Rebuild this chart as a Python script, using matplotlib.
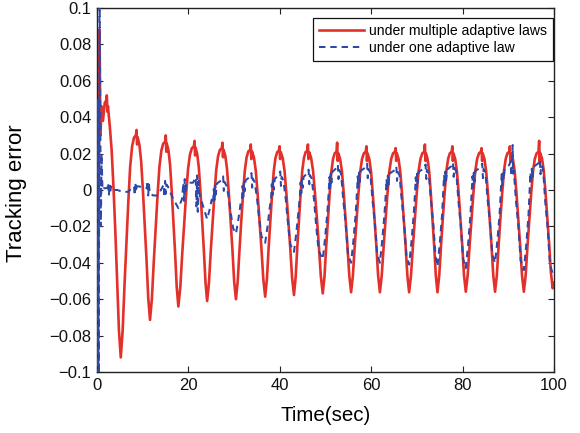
import matplotlib
matplotlib.use("Agg")
import matplotlib.pyplot as plt

plt.rcParams['font.family'] = ['Liberation Sans', 'DejaVu Sans']

# ---------------- data ----------------
# (time, error) samples of the red curve, one row per half cycle
red_points = [
    (0, 0.0), (0.2, -0.105), (0.55, 0.088), (0.75, 0.030), (1.0, 0.046), (1.3, 0.038), (1.7, 0.048), (2.0, 0.049),
    (2.15, 0.052), (2.27, 0.043), (2.4, 0.046), (2.8, 0.035), (3.2, 0.022), (3.6, 0.002), (4.0, -0.022), (4.4, -0.050), (4.8, -0.077), (5.2, -0.092),
    (5.61, -0.0774), (6.03, -0.0517), (6.44, -0.0286), (6.85, -0.0066), (7.26, 0.0129), (7.68, 0.0239), (8.09, 0.0288), (8.5, 0.030),
    (8.65, 0.033), (8.77, 0.025), (8.89, 0.029), (9.28, 0.0249), (9.66, 0.0158), (10.05, -0.0004), (10.44, -0.0187), (10.83, -0.0379), (11.21, -0.0592), (11.6, -0.0714),
    (12.01, -0.0597), (12.43, -0.0391), (12.84, -0.0205), (13.25, -0.0029), (13.66, 0.0128), (14.08, 0.0216), (14.49, 0.0255), (14.9, 0.0265),
    (15.05, 0.030), (15.17, 0.021), (15.26, 0.0256), (15.63, 0.022), (15.99, 0.0138), (16.35, -0.0006), (16.71, -0.0169), (17.08, -0.0341), (17.44, -0.0531), (17.8, -0.064),
    (18.23, -0.0534), (18.65, -0.035), (19.08, -0.0182), (19.5, -0.0024), (19.93, 0.0117), (20.35, 0.0196), (20.78, 0.0231), (21.2, 0.024),
    (21.35, 0.027), (21.47, 0.019), (21.56, 0.0232), (21.93, 0.0198), (22.29, 0.0121), (22.65, -0.0015), (23.01, -0.0168), (23.38, -0.0329), (23.74, -0.0508), (24.1, -0.061),
    (24.5, -0.0509), (24.9, -0.0333), (25.3, -0.0174), (25.7, -0.0023), (26.1, 0.0112), (26.5, 0.0187), (26.9, 0.0221), (27.3, 0.0229),
    (27.45, 0.026), (27.57, 0.018), (27.69, 0.0221), (28.08, 0.0188), (28.46, 0.0113), (28.85, -0.002), (29.24, -0.0169), (29.63, -0.0326), (30.01, -0.0501), (30.4, -0.060),
    (30.79, -0.0502), (31.18, -0.0329), (31.56, -0.0174), (31.95, -0.0026), (32.34, 0.0105), (32.73, 0.0179), (33.11, 0.0212), (33.5, 0.022),
    (33.65, 0.025), (33.77, 0.017), (33.91, 0.0212), (34.33, 0.018), (34.74, 0.0107), (35.15, -0.0022), (35.56, -0.0167), (35.98, -0.032), (36.39, -0.0489), (36.8, -0.0586),
    (37.18, -0.049), (37.55, -0.0321), (37.93, -0.0169), (38.3, -0.0025), (38.68, 0.0104), (39.05, 0.0176), (39.43, 0.0208), (39.8, 0.0216),
    (39.95, 0.024), (40.07, 0.017), (40.21, 0.0208), (40.63, 0.0176), (41.04, 0.0105), (41.45, -0.0022), (41.86, -0.0165), (42.28, -0.0315), (42.69, -0.0482), (43.1, -0.0577),
    (43.46, -0.0482), (43.83, -0.0315), (44.19, -0.0165), (44.55, -0.0022), (44.91, 0.0105), (45.28, 0.0176), (45.64, 0.0208), (46.0, 0.0216),
    (46.15, 0.025), (46.27, 0.017), (46.43, 0.0208), (46.85, 0.0177), (47.28, 0.0106), (47.7, -0.0019), (48.13, -0.016), (48.55, -0.0309), (48.98, -0.0474), (49.4, -0.0568),
    (49.78, -0.0475), (50.15, -0.0311), (50.53, -0.0163), (50.9, -0.0023), (51.28, 0.0101), (51.65, 0.0171), (52.03, 0.0202), (52.4, 0.021),
    (52.55, 0.026), (52.67, 0.016), (52.8, 0.0202), (53.2, 0.0171), (53.6, 0.0102), (54.0, -0.0022), (54.4, -0.0161), (54.8, -0.0307), (55.2, -0.0469), (55.6, -0.0562),
    (56.0, -0.0469), (56.4, -0.0307), (56.8, -0.0161), (57.2, -0.0022), (57.6, 0.0102), (58.0, 0.0171), (58.4, 0.0202), (58.8, 0.021),
    (58.95, 0.024), (59.07, 0.016), (59.19, 0.0202), (59.58, 0.0171), (59.96, 0.0102), (60.35, -0.0022), (60.74, -0.0161), (61.13, -0.0307), (61.51, -0.0469), (61.9, -0.0562),
    (62.31, -0.0469), (62.73, -0.0307), (63.14, -0.0161), (63.55, -0.0022), (63.96, 0.0102), (64.38, 0.0171), (64.79, 0.0202), (65.2, 0.021),
    (65.35, 0.023), (65.47, 0.016), (65.59, 0.0202), (65.98, 0.0171), (66.36, 0.0102), (66.75, -0.0022), (67.14, -0.0161), (67.53, -0.0307), (67.91, -0.0469), (68.3, -0.0562),
    (68.71, -0.0469), (69.13, -0.0307), (69.54, -0.0161), (69.95, -0.0022), (70.36, 0.0102), (70.78, 0.0171), (71.19, 0.0202), (71.6, 0.021),
    (71.75, 0.025), (71.87, 0.016), (71.96, 0.0202), (72.33, 0.0171), (72.69, 0.0102), (73.05, -0.0022), (73.41, -0.0161), (73.78, -0.0307), (74.14, -0.0469), (74.5, -0.0562),
    (74.89, -0.0469), (75.28, -0.0307), (75.66, -0.0161), (76.05, -0.0022), (76.44, 0.0102), (76.83, 0.0171), (77.21, 0.0202), (77.6, 0.021),
    (77.75, 0.024), (77.87, 0.016), (77.99, 0.0202), (78.38, 0.0171), (78.76, 0.0102), (79.15, -0.0022), (79.54, -0.0161), (79.93, -0.0307), (80.31, -0.0469), (80.7, -0.0559),
    (81.11, -0.0469), (81.53, -0.0307), (81.94, -0.0161), (82.35, -0.0022), (82.76, 0.0102), (83.18, 0.0171), (83.59, 0.0202), (84.0, 0.021),
    (84.15, 0.023), (84.27, 0.016), (84.39, 0.0202), (84.78, 0.0171), (85.16, 0.0102), (85.55, -0.0022), (85.94, -0.0161), (86.33, -0.0307), (86.71, -0.0469), (87.1, -0.0559),
    (87.49, -0.0469), (87.88, -0.0307), (88.26, -0.0161), (88.65, -0.0022), (89.04, 0.0102), (89.43, 0.0171), (89.81, 0.0202), (90.2, 0.021),
    (90.35, 0.024), (90.47, 0.016), (90.6, 0.0202), (91.0, 0.0171), (91.4, 0.0102), (91.8, -0.0022), (92.2, -0.0161), (92.6, -0.0307), (93.0, -0.0469), (93.4, -0.0559),
    (93.8, -0.0469), (94.2, -0.0307), (94.6, -0.0161), (95.0, -0.0022), (95.4, 0.0102), (95.8, 0.0171), (96.2, 0.0202), (96.6, 0.021),
    (96.75, 0.027), (96.87, 0.015), (96.99, 0.0203), (97.38, 0.0173), (97.76, 0.0105), (98.15, -0.0015), (98.54, -0.015), (98.93, -0.0293), (99.31, -0.045), (99.7, -0.054),
    (100.0, -0.051),
]

# (time, error) samples of the blue dashed curve
blue_points = [
    (0, 0.0), (0.1, -0.11), (0.25, 0.05), (0.4, -0.11), (0.55, 0.12), (0.7, 0.045), (0.85, -0.02), (1.0, 0.02), (1.2, 0.0), (1.5, 0.001),
    (2.3, 0.001), (2.45, 0.004), (2.6, -0.003), (2.75, 0.003), (2.9, -0.002), (3.05, 0.002), (3.2, 0.0), (3.5, 0.0),
    (4.5, 0.0), (5.5, -0.001), (6.8, -0.001), (7.6, 0.001),
    (8.1, 0.002), (8.25, -0.003), (8.4, 0.004), (8.55, -0.001), (8.7, 0.002), (9.2, 0.002), (10.3, 0.001),
    (10.9, 0.001), (11.05, 0.005), (11.2, -0.003), (11.35, 0.003), (11.6, -0.002), (12.3, -0.003), (13.3, -0.003), (14.2, 0.001),
    (14.6, 0.003), (14.75, -0.004), (14.9, 0.005), (15.05, -0.002), (15.2, 0.003), (15.5, 0.002), (16.5, -0.004), (17.8, -0.010),
    (18.6, -0.005), (18.9, 0.004), (19.05, -0.006), (19.2, 0.006), (19.35, -0.002), (19.5, 0.004), (20.2, 0.004), (21.0, 0.004),
    (21.6, 0.007), (21.75, -0.009), (21.9, 0.008), (22.05, -0.012), (22.2, 0.005), (22.4, -0.002), (23.1, -0.008), (24.1, -0.016),
    (24.6, -0.0112), (25.1, -0.0053), (25.4, -0.0075), (25.55, 0.0005), (25.7, -0.0055), (25.85, 0.0025), (26.0, -0.0025), (26.2, 0.0035), (27.3, 0.0055),
    (27.6, 0.0075), (27.75, -0.0005), (27.9, 0.0045), (28.3, 0.0025), (28.8, -0.0036), (29.3, -0.0132), (29.8, -0.0211), (30.4, -0.024),
    (30.9, -0.0168), (31.4, -0.0079), (31.7, -0.0057), (31.85, 0.0023), (32.0, -0.0037), (32.15, 0.0043), (32.3, -0.0007), (32.5, 0.0053), (33.5, 0.0073),
    (33.8, 0.0093), (33.95, 0.0013), (34.1, 0.0063), (34.5, 0.0043), (35.0, -0.0044), (35.5, -0.016), (36.0, -0.0255), (36.8, -0.029),
    (37.3, -0.0203), (37.8, -0.0096), (38.1, -0.0048), (38.25, 0.0032), (38.4, -0.0028), (38.55, 0.0052), (38.7, 0.0002), (38.9, 0.0062), (39.8, 0.0082),
    (40.1, 0.0102), (40.25, 0.0022), (40.4, 0.0072), (40.8, 0.0052), (41.3, -0.0051), (41.8, -0.0187), (42.3, -0.0299), (43.1, -0.034),
    (43.6, -0.0238), (44.1, -0.0112), (44.4, -0.0038), (44.55, 0.0042), (44.7, -0.0018), (44.85, 0.0062), (45.0, 0.0012), (45.2, 0.0072), (46.0, 0.0092),
    (46.3, 0.0112), (46.45, 0.0032), (46.6, 0.0082), (47.0, 0.0062), (47.5, -0.0057), (48.0, -0.0209), (48.5, -0.0334), (49.4, -0.038),
    (49.9, -0.0266), (50.4, -0.0125), (50.7, -0.001), (50.85, 0.007), (51.0, 0.001), (51.15, 0.009), (51.3, 0.004), (51.5, 0.010), (52.4, 0.012),
    (52.7, 0.014), (52.85, 0.006), (53.0, 0.011), (53.4, 0.009), (53.9, -0.006), (54.4, -0.018), (54.9, -0.0352), (55.6, -0.040),
    (56.1, -0.028), (56.6, -0.0132), (56.9, -0.0005), (57.05, 0.0075), (57.2, 0.0015), (57.35, 0.0095), (57.5, 0.0045), (57.7, 0.0105), (58.8, 0.0125),
    (59.1, 0.0145), (59.25, 0.0065), (59.4, 0.0115), (59.8, 0.0095), (60.3, -0.006), (60.8, -0.018), (61.3, -0.0352), (61.9, -0.040),
    (62.4, -0.028), (62.9, -0.0132), (63.2, -0.002), (63.35, 0.006), (63.5, 0.0), (63.65, 0.008), (63.8, 0.003), (64.0, 0.009), (65.2, 0.011),
    (65.5, 0.013), (65.65, 0.005), (65.8, 0.010), (66.2, 0.008), (66.7, -0.0062), (67.2, -0.0185), (67.7, -0.0361), (68.3, -0.041),
    (68.8, -0.0287), (69.3, -0.0135), (69.6, -0.001), (69.75, 0.007), (69.9, 0.001), (70.05, 0.009), (70.2, 0.004), (70.4, 0.010), (71.6, 0.012),
    (71.9, 0.014), (72.05, 0.006), (72.2, 0.011), (72.6, 0.009), (73.1, -0.0063), (73.6, -0.0189), (74.1, -0.037), (74.5, -0.042),
    (75.0, -0.0294), (75.5, -0.0139), (75.8, 0.0002), (75.95, 0.0082), (76.1, 0.0022), (76.25, 0.0102), (76.4, 0.0052), (76.6, 0.0112), (77.6, 0.0132),
    (77.9, 0.0152), (78.05, 0.0072), (78.2, 0.0122), (78.6, 0.0102), (79.1, -0.0065), (79.6, -0.0194), (80.1, -0.0378), (80.7, -0.043),
    (81.2, -0.0301), (81.7, -0.0142), (82.0, -0.0005), (82.15, 0.0075), (82.3, 0.0015), (82.45, 0.0095), (82.6, 0.0045), (82.8, 0.0105), (84.0, 0.0125),
    (84.3, 0.0145), (84.45, 0.0065), (84.6, 0.0115), (85.0, 0.0095), (85.5, -0.006), (86.0, -0.018), (86.5, -0.0352), (87.1, -0.040),
    (87.6, -0.028), (88.1, -0.0132), (88.4, 0.0007), (88.55, 0.0087), (88.7, 0.0027), (88.85, 0.0107), (89.0, 0.0057), (89.2, 0.0117), (90.2, 0.0137),
    (90.5, 0.0157), (90.65, 0.0077), (90.8, 0.0127), (90.95, 0.0247), (91.05, 0.009), (91.2, 0.0107), (91.7, -0.0066), (92.2, -0.0198), (92.7, -0.0387), (93.4, -0.044),
    (93.9, -0.0308), (94.4, -0.0145), (94.7, 0.0017), (94.85, 0.0097), (95.0, 0.0037), (95.15, 0.0117), (95.3, 0.0067), (95.5, 0.0127), (96.6, 0.0147),
    (96.9, 0.0167), (97.05, 0.0087), (97.2, 0.0137), (97.6, 0.0117), (98.1, -0.0069), (98.6, -0.0207), (99.1, -0.0405), (99.7, -0.046), (100.0, -0.044),
]

x_ticks = [0, 20, 40, 60, 80, 100]
y_ticks = [-0.1, -0.08, -0.06, -0.04, -0.02, 0, 0.02, 0.04, 0.06, 0.08, 0.1]
y_tick_labels = ['\u22120.1', '\u22120.08', '\u22120.06', '\u22120.04', '\u22120.02', '0',
                 '0.02', '0.04', '0.06', '0.08', '0.1']
series_labels = ['under multiple adaptive laws', 'under one adaptive law']
x_label = 'Time(sec)'
y_label = 'Tracking error'

red_t = [p[0] for p in red_points]
red_y = [p[1] for p in red_points]
blue_t = [p[0] for p in blue_points]
blue_y = [p[1] for p in blue_points]

# ---------------- figure ----------------
fig = plt.figure(figsize=(5.8, 4.33), dpi=100)
ax = fig.add_axes([97 / 580, 1 - 372 / 433, 457 / 580, 364 / 433])

ax.plot(red_t, red_y, color='#e3302a', lw=1.9, label=series_labels[0], zorder=2,
        solid_joinstyle='round')
ax.plot(blue_t, blue_y, color='#2e48a8', lw=1.45, ls=(0, (3.2, 2.4)),
        label=series_labels[1], zorder=3)

ax.set_xlim(0, 100)
ax.set_ylim(-0.1, 0.1)
ax.set_xticks(x_ticks)
ax.set_xticklabels([str(v) for v in x_ticks])
ax.set_yticks(y_ticks)
ax.set_yticklabels(y_tick_labels)
ax.tick_params(direction='in', length=4.5, width=0.8, top=True, right=True,
               labelsize=12, pad=4, colors='#222222', labelcolor='#111111')
for s in ax.spines.values():
    s.set_linewidth(1.0)
    s.set_color('#222222')

ax.set_xlabel(x_label, fontsize=14.8, labelpad=10)
ax.set_ylabel(y_label, fontsize=16)
ax.yaxis.set_label_coords(-0.153, 0.492)

leg = ax.legend(loc='upper right', bbox_to_anchor=(0.998, 0.9725), borderaxespad=0,
                fontsize=10.1, frameon=True, fancybox=False, framealpha=1,
                edgecolor='#111111', handlelength=3.2, labelspacing=0.22,
                borderpad=0.42, handletextpad=0.4)
leg.get_frame().set_linewidth(0.9)

fig.savefig('out.png', dpi=100)
